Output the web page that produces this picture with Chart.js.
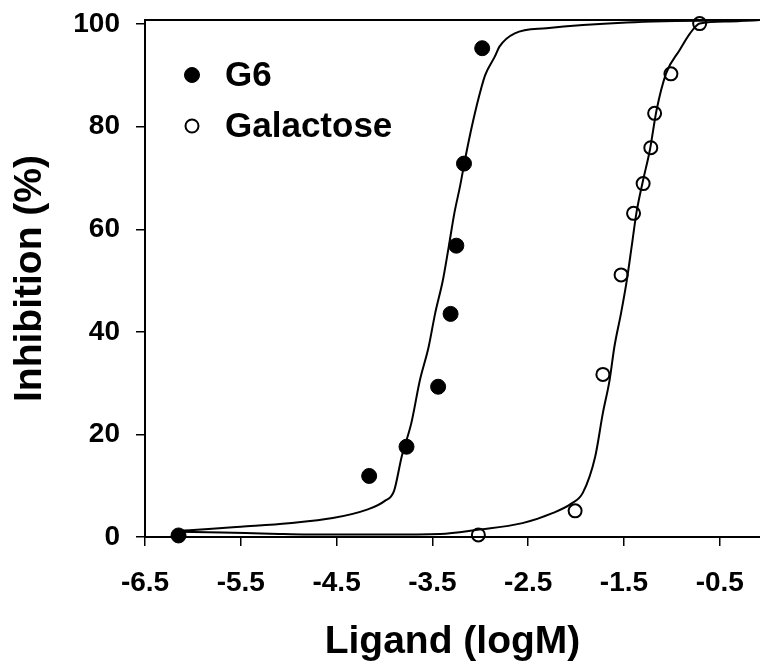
<!DOCTYPE html>
<html>
<head>
<meta charset="utf-8">
<title>Inhibition vs Ligand</title>
<script src="https://cdn.jsdelivr.net/npm/chart.js@4.4.1/dist/chart.umd.min.js"></script>
<style>
  html, body { margin: 0; padding: 0; background: #fff; overflow: hidden; }
  #wrap { width: 760px; height: 662px; position: relative; }
</style>
</head>
<body>
<div id="wrap"><canvas id="chart"></canvas></div>
<script>
// tick labels
const xTickValues = [-6.5, -5.5, -4.5, -3.5, -2.5, -1.5, -0.5];
const yTickValues = [0, 20, 40, 60, 80, 100];

// measured points
const g6LogM = [-6.15, -4.16, -3.77, -3.44, -3.31, -3.25, -3.17, -2.98];
const g6Inhibition = [0.3, 11.9, 17.6, 29.3, 43.5, 56.8, 72.8, 95.3];

const galLogM = [-3.02, -2.01, -1.72, -1.53, -1.40, -1.30, -1.22, -1.18, -1.01, -0.71];
const galInhibition = [0.4, 5.1, 31.7, 51.1, 63.1, 68.9, 75.9, 82.6, 90.3, 100.1];

// fitted curves
const g6FitLogM = [-6.15, -5.8, -5.5, -5.0, -4.54, -4.19, -4.0, -3.9, -3.82, -3.72, -3.63, -3.54, -3.47,
  -3.39, -3.33, -3.27, -3.21, -3.16, -3.10, -3.04, -2.95, -2.85, -2.80, -2.64, -2.31, -1.47, -0.08];
const g6FitInhibition = [1.2, 1.6, 2.0, 2.7, 3.7, 5.3, 7.0, 9.0, 15.7, 22.2, 30.6, 37.0, 43.7,
  50.1, 56.5, 63.2, 68.5, 73.5, 79.0, 83.9, 90.0, 93.6, 95.6, 98.2, 99.2, 100.3, 100.8];

const galFitLogM = [-6.15, -5.7, -5.45, -5.1, -4.8, -4.0, -3.42, -3.03, -2.56, -2.24, -2.05, -1.93, -1.80,
  -1.72, -1.65, -1.60, -1.53, -1.47, -1.42, -1.37, -1.30, -1.23, -1.16, -1.06, -0.92, -0.81, -0.71, -0.4, -0.08];
const galFitInhibition = [1.0, 0.9, 0.8, 0.6, 0.5, 0.5, 0.6, 1.4, 2.7, 4.7, 6.5, 8.6, 15.7,
  24.2, 30.6, 37.1, 43.7, 50.1, 56.6, 63.2, 69.6, 75.4, 83.2, 90.4, 94.9, 98.2, 100.1, 100.5, 100.8];

const FONT = "'Liberation Sans', Arial, sans-serif";

function toXY(xs, ys) {
  return xs.map((x, i) => ({ x: x, y: ys[i] }));
}

// top frame line + inset legend
const framePlugin = {
  id: 'framePlugin',
  afterDraw(chart) {
    const ctx = chart.ctx;
    const area = chart.chartArea;
    ctx.save();
    ctx.strokeStyle = '#000';
    ctx.lineWidth = 2;
    ctx.beginPath();
    ctx.moveTo(area.left, area.top);
    ctx.lineTo(area.right, area.top);
    ctx.stroke();

    // legend
    const items = chart.data.datasets.filter(d => d.showInLegend);
    const lx = area.left + 47;
    let ly = area.top + 55;
    ctx.font = 'bold 35px ' + FONT;
    ctx.textBaseline = 'middle';
    items.forEach(d => {
      ctx.beginPath();
      ctx.arc(lx, ly, d.pointRadius, 0, Math.PI * 2);
      if (d.pointBackgroundColor !== 'transparent') {
        ctx.fillStyle = d.pointBackgroundColor;
        ctx.fill();
      }
      ctx.lineWidth = d.pointBorderWidth;
      ctx.strokeStyle = '#000';
      ctx.stroke();
      ctx.fillStyle = '#000';
      ctx.fillText(d.label, lx + 33, ly + 1);
      ly += 51;
    });
    ctx.restore();
  }
};

new Chart(document.getElementById('chart'), {
  type: 'scatter',
  data: {
    datasets: [
      {
        label: 'G6 fit',
        type: 'line',
        data: toXY(g6FitLogM, g6FitInhibition),
        borderColor: '#000',
        borderWidth: 2,
        pointRadius: 0,
        fill: false,
        cubicInterpolationMode: 'monotone'
      },
      {
        label: 'Galactose fit',
        type: 'line',
        data: toXY(galFitLogM, galFitInhibition),
        borderColor: '#000',
        borderWidth: 2,
        pointRadius: 0,
        fill: false,
        cubicInterpolationMode: 'monotone'
      },
      {
        label: 'G6',
        showInLegend: true,
        data: toXY(g6LogM, g6Inhibition),
        pointRadius: 7.5,
        pointBackgroundColor: '#000',
        pointBorderColor: '#000',
        pointBorderWidth: 1,
        clip: false
      },
      {
        label: 'Galactose',
        showInLegend: true,
        data: toXY(galLogM, galInhibition),
        pointRadius: 6.5,
        pointBackgroundColor: 'transparent',
        pointBorderColor: '#000',
        pointBorderWidth: 2,
        clip: false
      }
    ]
  },
  options: {
    responsive: true,
    maintainAspectRatio: false,
    animation: false,
    layout: { autoPadding: false, padding: { top: 20, right: 0, left: 0, bottom: 0 } },
    plugins: {
      legend: { display: false },
      tooltip: { enabled: false }
    },
    scales: {
      x: {
        type: 'linear',
        min: -6.5,
        max: -0.08,
        afterBuildTicks(scale) {
          scale.ticks = xTickValues.map(v => ({ value: v }));
        },
        afterFit(scale) {
          scale.height = 125;
          scale.paddingLeft = 0;
          scale.paddingRight = 0;
        },
        ticks: {
          color: '#000',
          font: { family: FONT, size: 28, weight: 'bold' },
          padding: 20,
          maxRotation: 0,
          callback: v => v.toFixed(1)
        },
        grid: { drawOnChartArea: false, drawTicks: true, tickLength: 9, color: '#000', lineWidth: 1.5 },
        border: { display: true, color: '#000', width: 2 },
        title: {
          display: true,
          text: 'Ligand (logM)',
          color: '#000',
          font: { family: FONT, size: 39, weight: 'bold', lineHeight: 1.0 },
          padding: { top: 0, bottom: 0 }
        }
      },
      y: {
        type: 'linear',
        min: 0,
        max: 100.8,
        afterBuildTicks(scale) {
          scale.ticks = yTickValues.map(v => ({ value: v }));
        },
        afterFit(scale) {
          scale.width = 145;
          scale.paddingTop = 0;
          scale.paddingBottom = 0;
        },
        ticks: {
          color: '#000',
          font: { family: FONT, size: 28, weight: 'bold' },
          padding: 16
        },
        grid: { drawOnChartArea: false, drawTicks: true, tickLength: 9, color: '#000', lineWidth: 1.5 },
        border: { display: true, color: '#000', width: 2 },
        title: {
          display: true,
          text: 'Inhibition (%)',
          color: '#000',
          font: { family: FONT, size: 39, weight: 'bold' },
          padding: { top: 7, bottom: 0 }
        }
      }
    }
  },
  plugins: [framePlugin]
});
</script>
</body>
</html>
